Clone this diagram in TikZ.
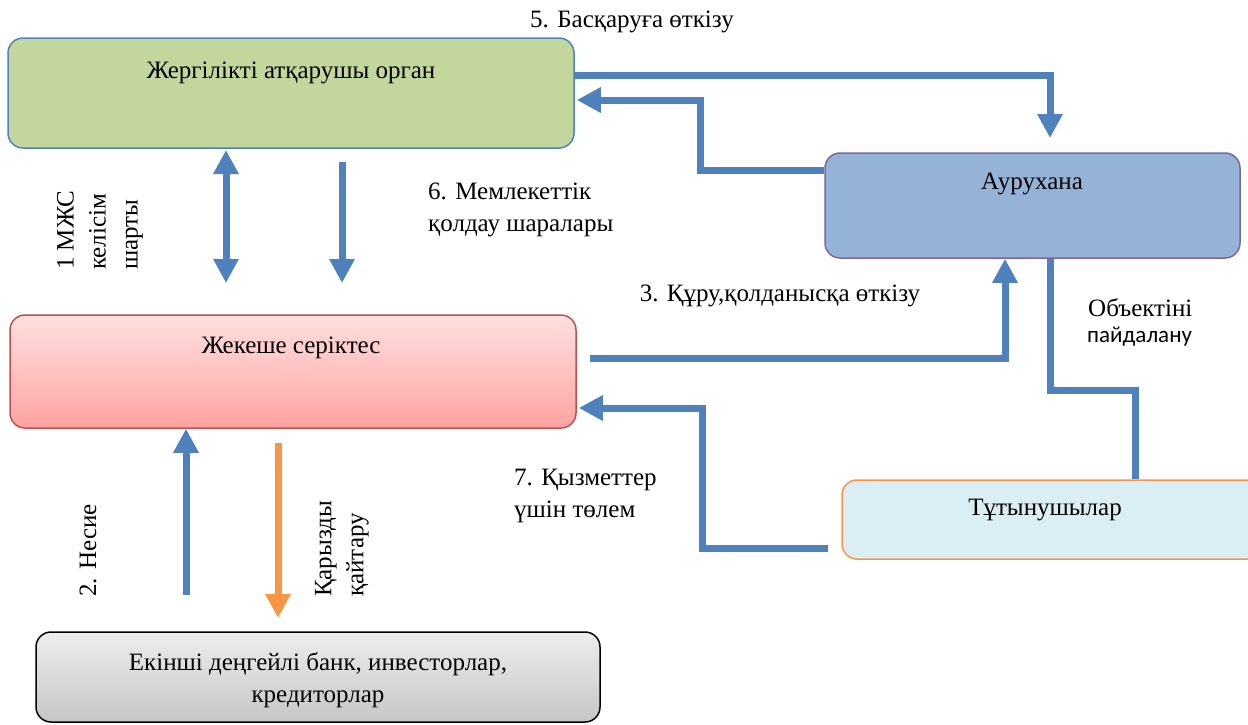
\documentclass[tikz,border=0pt]{standalone}
\usepackage{fontspec}
\setmainfont{Liberation Serif}
\newfontfamily\calibri{Carlito}
\usetikzlibrary{arrows.meta,calc}
\definecolor{arrblue}{HTML}{4F81BD}
\definecolor{govfill}{HTML}{C3D69B}
\definecolor{hospfill}{HTML}{95B3D7}
\definecolor{hospdraw}{HTML}{8064A2}
\definecolor{privdraw}{HTML}{C0504D}
\definecolor{privtop}{HTML}{FFE0E0}
\definecolor{privbot}{HTML}{FFA2A2}
\definecolor{consfill}{HTML}{DBEEF4}
\definecolor{consdraw}{HTML}{F79646}
\definecolor{banktop}{HTML}{EDEDED}
\definecolor{bankbot}{HTML}{C6C6C6}
\tikzset{
  box/.style={rectangle, rounded corners=15pt, line width=1.5pt, inner sep=0pt},
  lbl/.style={inner sep=0pt, font=\fontsize{25}{32}\selectfont},
  arr/.style={draw=arrblue, line width=7pt, -{Triangle[width=24pt,length=24pt]}},
  plain/.style={draw=arrblue, line width=7pt},
}
\begin{document}
\begin{tikzpicture}[x=1pt,y=-1pt]
\useasboundingbox (0,0) rectangle (1248,724);
% boxes
\node[box, draw=arrblue, fill=govfill, minimum width=566pt, minimum height=110pt] (gov) at (291,93) {};
\node[box, draw=hospdraw, fill=hospfill, minimum width=415pt, minimum height=105pt] (hosp) at (1032.5,205.5) {};
\node[box, draw=privdraw, top color=privtop, bottom color=privbot, minimum width=566pt, minimum height=113pt] (priv) at (293,371.5) {};
\node[box, draw=consdraw, fill=consfill, minimum width=420pt, minimum height=79pt] (cons) at (1052,519.5) {};
\node[box, draw=black, top color=banktop, bottom color=bankbot, minimum width=564pt, minimum height=90pt] (bank) at (318,677) {};
% box texts
\node[lbl] (govt) at (291,73) {Жергілікті атқарушы орган};
\node[lbl] (hospt) at (1032,184) {Аурухана};
\node[lbl] (privt) at (291,348) {Жекеше серіктес};
\node[lbl] (const) at (1045,510) {Тұтынушылар};
\node[lbl, align=center] (bankt) at (318,680) {Екінші деңгейлі банк, инвесторлар,\\кредиторлар};
% coordinates
\coordinate (c1) at (1050,75);
\coordinate (c1e) at (1050,138);
\coordinate (c2a) at (700,170);
\coordinate (c2b) at (700,100);
\coordinate (d1) at (226,150);
\coordinate (d2) at (226,283);
\coordinate (e1) at (342,162);
\coordinate (e2) at (342,283);
\coordinate (f1) at (590,358);
\coordinate (f2) at (1005,358);
\coordinate (g1) at (1050,390);
\coordinate (g2) at (1135,390);
\coordinate (h1) at (828,548);
\coordinate (h2) at (702,548);
\coordinate (h3) at (702,408);
\coordinate (k1) at (186,595);
\coordinate (m1) at (278,443);
\coordinate (m2) at (278,618);
% connectors
\draw[arr] (gov.east |- c1) -- (c1) -- (c1e);
\draw[arr] (hosp.west |- c2a) -- (c2a) -- (c2b) -- ([xshift=2pt]gov.east |- c2b);
\draw[arr, {Triangle[width=24pt,length=24pt]}-{Triangle[width=24pt,length=24pt]}] (d1) -- (d2);
\draw[arr] (e1) -- (e2);
\draw[arr] (f1) -- (f2) -- (f2 |- hosp.south);
\draw[plain] (c1 |- hosp.south) -- (g1) -- (g2) -- (g2 |- cons.north);
\draw[arr] (h1) -- (h2) -- (h3) -- ([xshift=2pt]priv.east |- h3);
\draw[arr] (k1) -- (k1 |- priv.south);
\draw[arr, draw=consdraw, -{Triangle[width=24pt,length=24pt]}] (m1) -- (m2);
% labels
\node[lbl] (l5) at (632,22) {5. Басқаруға өткізу};
\node[lbl, align=left, anchor=west] (l6) at (428,210) {6. Мемлекеттік\\қолдау шаралары};
\node[lbl] (l3) at (780,296) {3. Құру,қолданысқа өткізу};
\node[lbl, anchor=west] (l4a) at (1088,308) {Объектіні};
\node[lbl, anchor=west, font=\calibri\fontsize{23}{30}\selectfont] (l4b) at (1087,337) {пайдалану};
\node[lbl, align=left, anchor=west] (l7) at (514,496) {7. Қызметтер\\үшін төлем};
\node[lbl, align=left, rotate=90, anchor=west] (l1) at (100,270) {1 МЖС\\келісім\\шарты};
\node[lbl, rotate=90, anchor=west] (l2) at (88,597) {2. Несие};
\node[lbl, align=left, rotate=90, anchor=west] (l8) at (342,597) {Қарызды\\қайтару};
\end{tikzpicture}
\end{document}
